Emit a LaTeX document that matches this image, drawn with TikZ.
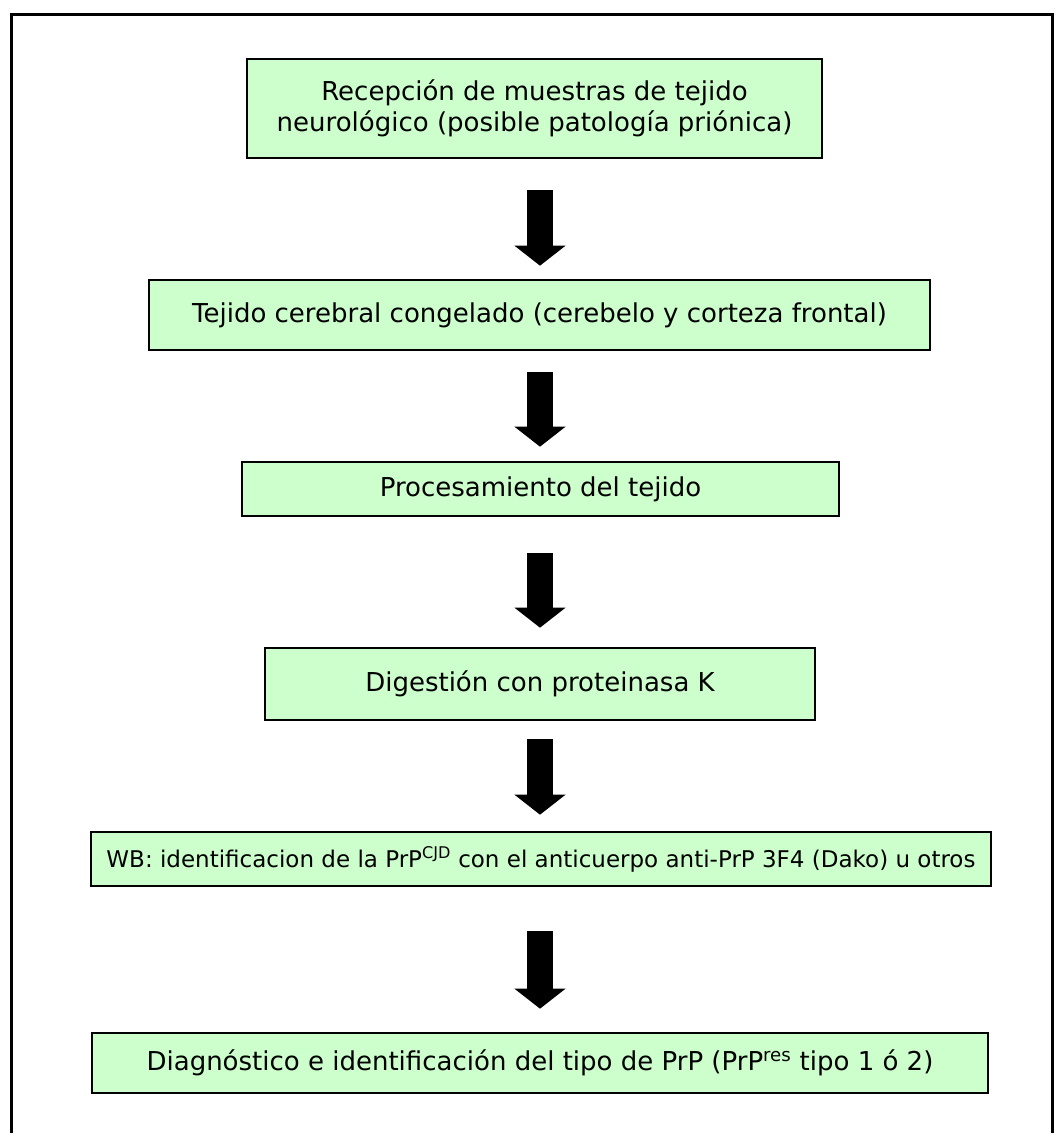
\documentclass[tikz,border=0pt]{standalone}
\usepackage{fontspec}
\setmainfont{DejaVu Sans}
\usetikzlibrary{arrows.meta}

\definecolor{pasoverde}{HTML}{CCFFCC}
\tikzset{
  paso/.style={draw, line width=2.6pt, fill=pasoverde, inner sep=0pt, align=center,
               font=\fontsize{26}{31}\selectfont},
  flecha/.style={line width=26pt, -{Triangle[length=20pt, width=50pt, inset=0pt]}},
}

\begin{document}
\begin{tikzpicture}[x=1pt, y=-1pt]
  \useasboundingbox (0,0) rectangle (1055,1133);

  % ── marco exterior ──
  \draw[line width=3pt] (11,1145) -- (11,14) -- (1052,14) -- (1052,1145);

  % ── pasos del protocolo ──
  \node[paso, minimum width=575pt, minimum height=99pt] (recepcion) at (534.5,108.5)
       {Recepción de muestras de tejido\\neurológico (posible patología priónica)};
  \node[paso, minimum width=781pt, minimum height=70pt] (congelado) at (539.5,315)
       {Tejido cerebral congelado (cerebelo y corteza frontal)};
  \node[paso, minimum width=597pt, minimum height=54pt] (procesado) at (540.5,489)
       {Procesamiento del tejido};
  \node[paso, minimum width=550pt, minimum height=72pt] (digestion) at (540,684)
       {Digestión con proteinasa K};
  \node[paso, minimum width=900pt, minimum height=54pt, font=\fontsize{23}{28}\selectfont] (wb) at (541,859)
       {WB: identificacion de la PrP\textsuperscript{CJD} con el anticuerpo anti-PrP 3F4 (Dako) u otros};
  \node[paso, minimum width=896pt, minimum height=60pt] (diagnostico) at (540,1063)
       {Diagnóstico e identificación del tipo de PrP (PrP\textsuperscript{res} tipo 1 ó 2)};

  % ── flechas de bloque ──
  \draw[flecha, shorten <=31pt, shorten >=13pt] (recepcion.south -| 540,0) -- (congelado.north -| 540,0);
  \draw[flecha, shorten <=21pt, shorten >=14pt] (congelado.south -| 540,0) -- (procesado.north -| 540,0);
  \draw[flecha, shorten <=36pt, shorten >=19pt] (procesado.south -| 540,0) -- (digestion.north -| 540,0);
  \draw[flecha, shorten <=18pt, shorten >=16pt] (digestion.south -| 540,0) -- (wb.north -| 540,0);
  \draw[flecha, shorten <=44pt, shorten >=23pt] (wb.south -| 540,0) -- (diagnostico.north -| 540,0);
\end{tikzpicture}
\end{document}
